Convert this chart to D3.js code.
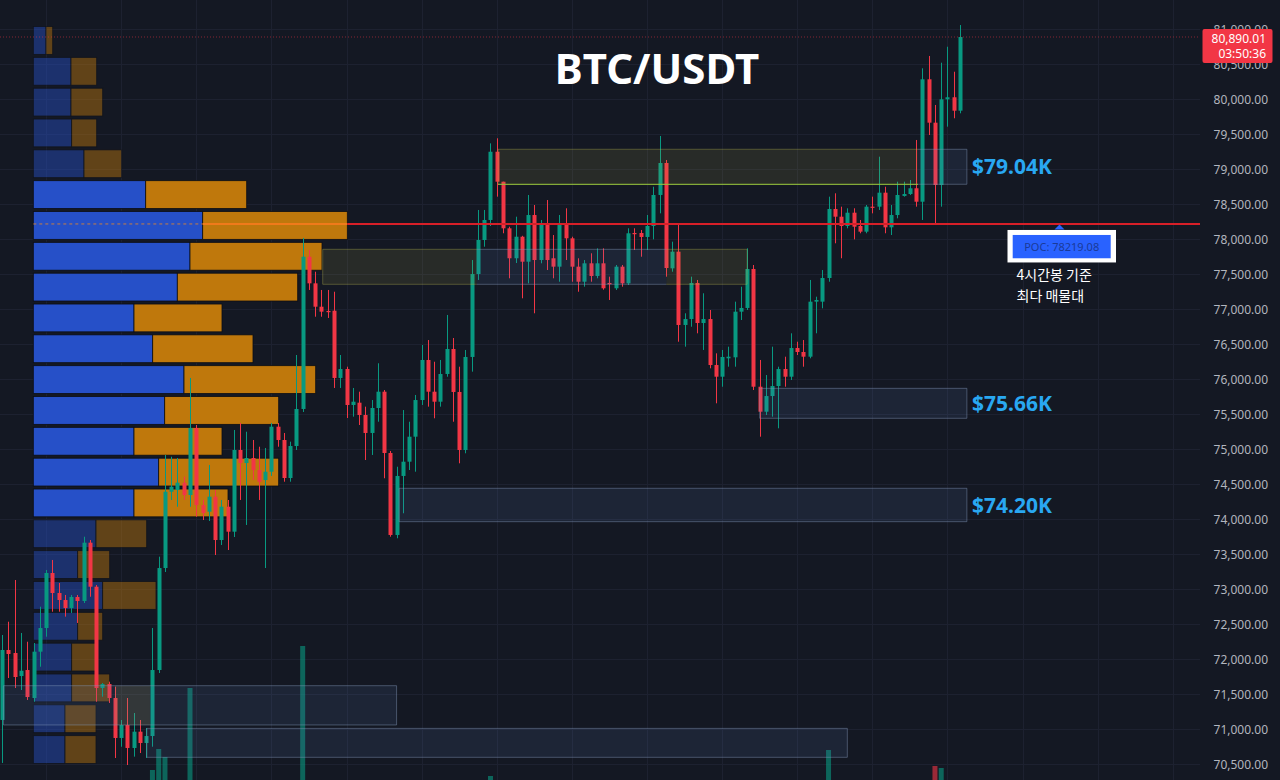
<!DOCTYPE html>
<html><head><meta charset="utf-8">
<script src="https://cdn.jsdelivr.net/npm/d3@7/dist/d3.min.js"></script>
<style>html,body{margin:0;padding:0;background:#141823;overflow:hidden}svg{display:block}</style>
</head><body><svg id="chart" width="1280" height="780"></svg>
<script>
// ---------- DATA ----------
const opens=[71133,72133,72090,71761,71847,71447,72109,72447,73233,72947,
72847,72733,72890,72833,73666,73037,71590,71647,71447,70876,
71061,70733,70966,70804,70904,71847,73304,74394,74419,74523,
74347,75304,74204,74109,74323,73704,74180,73823,74990,74804,
74876,74704,74561,74680,75323,75133,74590,75047,75576,77751,
77371,77037,76976,76980,76019,76147,75633,75666,75490,75233,
75590,75823,74947,73776,74619,74823,75180,75704,76276,75823,
75680,76076,76433,75819,74990,76319,77504,77990,78276,79251,
78823,78157,77729,78037,77680,78347,77704,78229,77729,77609,
78219,78014,77609,77394,77657,77476,77657,77376,77300,77609,
77371,78090,78090,78033,78190,78633,79090,77585,77823,76776,
76861,77376,76804,76861,76204,76037,76300,76314,76966,77019,
77576,75894,75537,75761,75904,76147,76037,76447,76390,76323,
77109,77109,77447,78433,78323,78190,78380,78190,78109,78466,
78466,78666,78171,78347,78619,78647,78729,78537,80286,79666,
78776,80000,80029,79837];
const closes=[72133,72076,71747,71837,71461,72109,72447,73233,72947,72847,
72733,72890,72833,73666,73037,71590,71647,71447,70876,71061,
70733,70966,70804,70904,71847,73304,74394,74466,74523,74347,
75304,74204,74090,74323,73704,74180,73823,74990,74804,74876,
74704,74537,74680,75323,75133,74590,75047,75576,77751,77371,
77037,76966,76961,76019,76147,75633,75680,75490,75233,75590,
75823,74947,73776,74619,74823,75180,75704,76276,75823,75680,
76076,76433,75819,74990,76319,77504,77990,78276,79251,78823,
78157,77729,78037,77680,78347,77704,78229,77704,77609,78219,
78014,77609,77394,77657,77476,77657,77300,77361,77609,77371,
78086,78076,78033,78190,78633,79090,77590,77823,76776,76861,
77376,76804,76861,76204,76037,76319,76323,76966,77019,77576,
75894,75537,75761,75904,76147,76037,76447,76390,76323,77109,
77133,77447,78433,78323,78190,78380,78180,78109,78466,78455,
78666,78171,78347,78633,78647,78729,78537,80286,79666,78776,
80000,80029,79837,80890.01];
const highs=[72347,72537,73133,72376,72251,72233,72751,73276,73419,73090,
72919,72919,72919,73751,73704,73061,71661,71680,71609,71133,
71447,71233,71133,71019,72447,73466,74919,74894,74876,74609,
76019,75347,74276,74776,74419,74276,74276,75276,75376,75251,
75133,75037,75019,75376,75376,75233,75109,76347,78019,77847,
77537,77276,77276,77251,76347,76180,75876,75823,75609,75704,
76229,75847,74976,74751,75561,75394,75776,76490,76561,76251,
76276,76919,76590,76180,76419,77704,78419,78419,79371,79443,
78823,78180,78323,78050,78633,78490,78276,78561,78061,78347,
78443,78037,77729,77704,77800,77871,77871,77466,77633,77633,
78157,78157,78133,78347,78751,79476,79133,77966,78229,76943,
77466,77419,77229,76990,76371,76419,76466,77109,77323,77871,
77633,76276,76061,76466,76180,76323,76657,76537,76561,77419,
77180,77561,78609,78657,78466,78443,78443,78276,78490,78609,
79180,78751,78490,78823,78823,78847,79419,80443,80619,79919,
80523,80751,80394,81061];
const lows=[70519,71733,71590,71561,71419,71394,71894,72323,72680,72680,
72609,72662,72519,72804,72894,71394,71466,71376,70590,70751,
70490,70609,70661,70590,70751,71804,73247,74276,74180,74276,
74180,74037,73990,73976,73490,73633,73561,73747,74276,73919,
74561,74276,73304,74619,75037,74537,74537,74990,75533,77276,
76894,76894,76876,75876,75876,75447,75466,75347,74847,74919,
75394,74586,73751,73729,74086,74704,74680,75633,75609,75443,
75609,76037,75394,74800,74943,76109,77419,77894,78190,78609,
78086,77443,77661,77157,77371,76943,77657,77561,77443,77394,
77704,77394,77251,77323,77394,77443,77280,77133,77276,77323,
77347,77847,77751,77847,77999,78371,77466,77537,76537,76466,
76751,76657,76419,76157,75657,75894,76180,76180,76847,76990,
75847,75180,75490,75466,75300,75894,75990,76347,76180,76300,
76657,77014,77394,77943,77729,78157,77999,78086,78086,78371,
78419,78086,78061,78300,78609,78633,78466,78276,79490,78204,
78466,79609,79729,79800];

// volume profile rows (top row = highest price), buy (blue) / sell (orange)
const profileBuy=[127,377,377,384,507,1124,1694,1567,1440,1007,1194,1507,1314,1007,1254,1007,627,444,694,444,384,384,317,317];
const profileSell=[67,257,317,250,377,1010,1446,1320,1204,880,1003,1317,1140,880,1200,940,507,320,533,250,243,380,310,310];

// visible volume bars (candle index, volume)
const volIndex=[24,25,26,30,48,78,132,149,150];
const volValue=[2000,4100,3300,10200,14400,1400,4000,2400,2200];

const priceTicks=d3.range(70500,81001,500);
const gridEvery=12, gridStart=7;

// zones (price bands) drawn over the candles
const zoneLow =[78786,78786,77357,77357,77357,75443,73966,71062,71062,70600];
const zoneHigh=[79286,79286,77857,77857,77857,75871,74443,71623,71623,71013];
const zoneFrom=[79.2,146.3,51.2,75.8,106.1,121,63.4,0.2,18,23.1];
const zoneTo  =[146.3,154.1,75.8,106.1,119,154.1,154.1,63,23.6,135];
const zoneKind=["oliveG","blue","olive","blue","olive","blue","blue","blue","oliveFill","blue"];
const zoneEdgeL=[1,0,1,0,0,1,1,1,0,1];
const zoneEdgeR=[0,1,0,0,1,1,1,1,0,1];
const labelZones=[1,5,6];

const lastPrice=80890.01, countdown="03:50:36", pocPrice=78219.08;
const titleText="BTC/USDT";
const noteLines=["4시간봉 기준","최다 매물대"];

// ---------- DRAW ----------
const W=1280,H=780,plotR=1200;
const n=opens.length;
const svg=d3.select("#chart");
const x=d3.scaleLinear().domain([0,n-1]).range([2.2,960]);
const y=d3.scaleLinear().domain([70500,81000]).range([764.3,29.3]);
const UP="#089981", DN="#f23645";
const FONT="'Noto Sans', 'Open Sans', sans-serif";

svg.append("rect").attr("width",W).attr("height",H).attr("fill","#141823");

// grid
const grid=svg.append("g");
grid.selectAll("line.h").data(priceTicks).join("line").attr("class","h")
  .attr("x1",0).attr("x2",plotR)
  .attr("y1",d=>Math.round(y(d))+0.5).attr("y2",d=>Math.round(y(d))+0.5)
  .attr("stroke","#1d2130").attr("stroke-width",1);
grid.selectAll("line.v").data(d3.range(gridStart,190,gridEvery)).join("line").attr("class","v")
  .attr("x1",d=>Math.round(x(d))+0.5).attr("x2",d=>Math.round(x(d))+0.5)
  .attr("y1",0).attr("y2",H)
  .attr("stroke","#1d2130").attr("stroke-width",1);

// volume bars
const vScale=d3.scaleLinear().domain([0,d3.max(volValue)]).range([0,144]);
const volBase=790;
svg.append("g").selectAll("rect").data(volIndex).join("rect")
  .attr("x",d=>x(d)-2.5).attr("width",5)
  .attr("y",(d,i)=>volBase-vScale(volValue[i]))
  .attr("height",(d,i)=>vScale(volValue[i]))
  .attr("fill",d=>closes[d]>=opens[d]?"rgba(8,153,129,0.6)":"rgba(242,54,69,0.6)");

// volume profile
const pLo=d3.min(lows), pHi=d3.max(highs), rows=profileBuy.length, step=(pHi-pLo)/rows;
const totals=profileBuy.map((b,i)=>b+profileSell[i]);
const poc=d3.maxIndex(totals);
let vaLo=poc, vaHi=poc, acc=totals[poc];
const target=0.7*d3.sum(totals);
while(acc<target){
  const up=vaLo>0?totals[vaLo-1]:-1, dn=vaHi<rows-1?totals[vaHi+1]:-1;
  if(up>=dn){vaLo--;acc+=up;}else{vaHi++;acc+=dn;}
}
const px0=33.3;
const vx=d3.scaleLinear().domain([0,d3.max(totals)]).range([0,314]);
const prof=svg.append("g");
const rowData=d3.range(rows).map(k=>({k,top:pHi-k*step,bot:pHi-(k+1)*step}));
const rowG=prof.selectAll("g").data(rowData).join("g")
  .attr("opacity",d=>(d.k>=vaLo&&d.k<=vaHi)?1:0.45);
rowG.append("rect").attr("x",px0).attr("y",d=>y(d.top)+1.5)
  .attr("width",d=>vx(profileBuy[d.k])).attr("height",d=>y(d.bot)-y(d.top)-3)
  .attr("fill","#2650c8").attr("stroke","#0c0e14").attr("stroke-width",0.8);
rowG.append("rect").attr("x",d=>px0+vx(profileBuy[d.k])).attr("y",d=>y(d.top)+1.5)
  .attr("width",d=>vx(profileSell[d.k])).attr("height",d=>y(d.bot)-y(d.top)-3)
  .attr("fill","#bf780c").attr("stroke","#0c0e14").attr("stroke-width",0.8);

// candles
const cg=svg.append("g");
const idx=d3.range(n);
cg.selectAll("line").data(idx).join("line")
  .attr("x1",i=>Math.round(x(i))+0.5).attr("x2",i=>Math.round(x(i))+0.5)
  .attr("y1",i=>y(highs[i])).attr("y2",i=>y(lows[i]))
  .attr("stroke",i=>closes[i]>=opens[i]?UP:DN).attr("stroke-width",1);
cg.selectAll("rect").data(idx).join("rect")
  .attr("x",i=>Math.round(x(i))-1.5).attr("width",4)
  .attr("y",i=>y(Math.max(opens[i],closes[i])))
  .attr("height",i=>Math.max(1.2,Math.abs(y(opens[i])-y(closes[i]))))
  .attr("fill",i=>closes[i]>=opens[i]?UP:DN);

// zones
const zStyle={
  olive:{fill:"rgba(190,185,80,0.12)",top:"rgba(190,185,80,0.35)",bot:"rgba(190,185,80,0.35)"},
  oliveG:{fill:"rgba(190,185,80,0.12)",top:"rgba(190,185,80,0.35)",bot:"rgba(150,195,60,0.85)"},
  oliveFill:{fill:"rgba(190,170,80,0.14)",top:"none",bot:"none"},
  blue:{fill:"rgba(95,135,195,0.12)",top:"rgba(130,150,185,0.45)",bot:"rgba(130,150,185,0.45)"}
};
const zg=svg.append("g");
zoneLow.forEach((lo,i)=>{
  const s=zStyle[zoneKind[i]];
  const x0=x(zoneFrom[i]), x1=x(zoneTo[i]), y0=y(zoneHigh[i]), y1=y(lo);
  zg.append("rect").attr("x",x0).attr("y",y0).attr("width",x1-x0).attr("height",y1-y0).attr("fill",s.fill);
  if(s.top!=="none"){
    zg.append("line").attr("x1",x0).attr("x2",x1).attr("y1",y0).attr("y2",y0).attr("stroke",s.top);
    zg.append("line").attr("x1",x0).attr("x2",x1).attr("y1",y1).attr("y2",y1).attr("stroke",s.bot).attr("stroke-width",zoneKind[i]==="oliveG"?1.3:1);
    if(zoneEdgeL[i]) zg.append("line").attr("x1",x0).attr("x2",x0).attr("y1",y0).attr("y2",y1).attr("stroke",s.top);
    if(zoneEdgeR[i]) zg.append("line").attr("x1",x1).attr("x2",x1).attr("y1",y0).attr("y2",y1).attr("stroke",s.top);
  }
});
labelZones.forEach(i=>{
  const mid=(zoneLow[i]+zoneHigh[i])/2;
  svg.append("text").attr("x",972).attr("y",y(mid)).attr("dy","0.36em")
    .attr("fill","#29a8f2").attr("font-family",FONT).attr("font-weight",700).attr("font-size",21)
    .text("$"+(mid/1000).toFixed(2)+"K");
});

// POC line
const pocY=y(pocPrice);
const pocEnd=px0+vx(totals[poc]);
svg.append("line").attr("x1",px0).attr("x2",px0+vx(profileBuy[poc])).attr("y1",pocY).attr("y2",pocY)
  .attr("stroke","#f08a24").attr("stroke-width",1).attr("stroke-dasharray","3,3").attr("opacity",0.8);
svg.append("line").attr("x1",px0+vx(profileBuy[poc])).attr("x2",pocEnd).attr("y1",pocY).attr("y2",pocY)
  .attr("stroke","#f07a1a").attr("stroke-width",2);
svg.append("line").attr("x1",pocEnd).attr("x2",plotR).attr("y1",pocY).attr("y2",pocY)
  .attr("stroke","#d81f28").attr("stroke-width",2);

// last price line
const lpY=y(lastPrice);
svg.append("line").attr("x1",0).attr("x2",plotR).attr("y1",lpY).attr("y2",lpY)
  .attr("stroke","rgba(242,54,69,0.5)").attr("stroke-width",1).attr("stroke-dasharray","1,2");

// right axis labels
svg.append("g").selectAll("text").data(priceTicks).join("text")
  .attr("x",1268).attr("y",d=>y(d)).attr("dy","0.35em").attr("text-anchor","end")
  .attr("fill","#b2b5be").attr("font-family",FONT).attr("font-size",12)
  .text(d=>d3.format(",.2f")(d));

// last price tag
svg.append("rect").attr("x",1202.5).attr("y",lpY-8).attr("width",70).attr("height",34).attr("rx",2).attr("fill","#f23645");
svg.append("text").attr("x",1266).attr("y",lpY+1.5).attr("dy","0.35em").attr("text-anchor","end")
  .attr("fill","#fff").attr("font-family",FONT).attr("font-size",12).text(d3.format(",.2f")(lastPrice));
svg.append("text").attr("x",1266).attr("y",lpY+17).attr("dy","0.35em").attr("text-anchor","end")
  .attr("fill","#fff").attr("font-family",FONT).attr("font-size",12).text(countdown);

// POC callout
const pocBoxX=1007.5, pocBoxY=pocY+6;
svg.append("path").attr("d",`M${1059.5},${pocY+0.5} l-5,5 l10,0 z`).attr("fill","#2962ff");
svg.append("rect").attr("x",pocBoxX).attr("y",pocBoxY).attr("width",108.5).attr("height",32.5).attr("fill","#ffffff");
svg.append("rect").attr("x",pocBoxX+5.2).attr("y",pocBoxY+5).attr("width",98).attr("height",23.3).attr("fill","#2962ff");
svg.append("text").attr("x",pocBoxX+54.2).attr("y",pocBoxY+16.7).attr("dy","0.35em").attr("text-anchor","middle")
  .attr("fill","#1a3a98").attr("font-family",FONT).attr("font-size",11)
  .text("POC: "+pocPrice.toFixed(2));
svg.append("g").selectAll("text").data(noteLines).join("text")
  .attr("x",1016.5).attr("y",(d,i)=>280+i*20.5)
  .attr("fill","#ffffff").attr("font-family","'Noto Sans CJK KR', sans-serif").attr("font-size",14)
  .text(d=>d);

// title
svg.append("text").attr("x",657).attr("y",84).attr("text-anchor","middle")
  .attr("fill","#ffffff").attr("font-family",FONT).attr("font-weight",700).attr("font-size",42)
  .text(titleText);
</script></body></html>
